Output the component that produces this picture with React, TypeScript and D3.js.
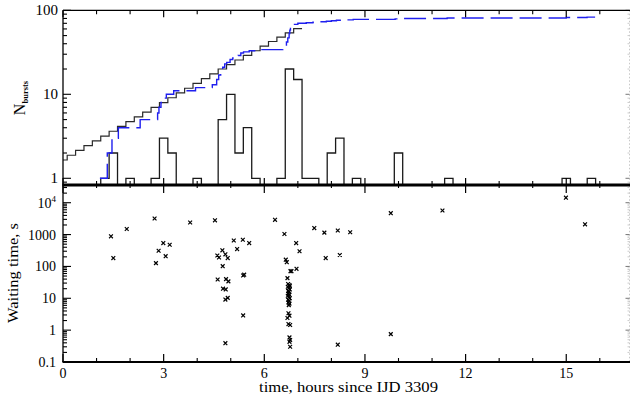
import React from 'react';
import * as d3 from 'd3';

// ---------- data ----------
const xMajorTicks = [0, 3, 6, 9, 12, 15];
const xTickLabels = ['0', '3', '6', '9', '12', '15'];

// histogram of bursts per 0.25 h bin (left edges, counts)
const histLeft = [1.125, 1.375, 1.875, 2.625, 2.875, 3.125, 3.875, 4.625, 4.875, 5.125, 5.375, 5.625, 6.375, 6.625, 6.875, 7.125, 7.375, 7.875, 8.125, 8.625, 9.875, 11.375, 14.875, 15.625];
const histCount = [1, 2, 1, 1, 3, 2, 1, 5, 10, 2, 4, 1, 1, 20, 15, 1, 1, 2, 3, 1, 2, 1, 1, 1];
const binWidth = 0.25;

// black staircase (model cumulative), one value per 0.25 h bin, first bin starts at 0
const modelEdges = [0, 0.125, 0.375, 0.625, 0.875, 1.125, 1.375, 1.625, 1.875, 2.125, 2.375, 2.625, 2.875, 3.125, 3.375, 3.625, 3.875, 4.125, 4.375, 4.625, 4.875, 5.125, 5.375, 5.625, 5.875, 6.125, 6.375, 6.625, 6.875];
const modelValues = [1.65, 1.88, 2.15, 2.45, 2.79, 3.18, 3.63, 4.14, 4.72, 5.38, 6.14, 7.0, 7.98, 9.1, 10.4, 11.8, 13.5, 15.4, 17.5, 20.0, 22.6, 25.6, 29.0, 33.0, 37.5, 42.5, 48.0, 54.0, 60.5];
const modelEnd = 7.125;

// blue cumulative number of bursts (step times, count after step)
const blueT = [1.10, 1.32, 1.46, 1.65, 2.30, 2.82, 2.86, 2.92, 3.00, 3.08, 3.30, 3.95, 4.45, 4.58, 4.64, 4.70, 4.76, 4.82, 4.88, 4.98, 5.06, 5.14, 5.22, 5.30, 5.38, 5.55, 5.75, 6.55, 6.62, 6.66, 6.70, 6.74, 6.76, 6.78, 6.80, 6.90, 7.00, 7.25, 7.45, 7.60, 7.85, 8.00, 8.15, 8.30, 8.65, 9.90, 10.05, 11.45, 15.00, 15.62];
const blueN = [1, 2, 3, 4, 5, 6, 7, 8, 9, 10, 11, 12, 13, 15, 17, 19, 21, 23, 24, 26, 27, 28, 29, 31, 32, 33, 34, 35, 37, 42, 47, 53, 58, 63, 67, 68, 70, 71, 72, 73, 74, 75, 76, 77, 78, 79, 80, 81, 82, 83];
const blueEnd = 15.86;

// waiting times (hours since IJD 3309, seconds)
const scatterT = [1.43, 1.50, 1.90, 2.73, 2.77, 2.85, 2.99, 3.06, 3.18, 3.79, 4.53, 4.60, 4.65, 4.61, 4.75, 4.76, 4.77, 4.84, 4.84, 4.84, 4.85, 4.86, 4.91, 4.91, 4.93, 5.09, 5.19, 5.36, 5.37, 5.40, 5.37, 5.55, 6.32, 6.60, 6.64, 6.67, 6.69, 6.78, 6.81, 6.96, 6.95, 7.05,
  6.71, 6.75, 6.70, 6.73, 6.76, 6.71, 6.74, 6.72, 6.75, 6.70, 6.73, 6.76, 6.71, 6.74, 6.72, 6.75, 6.73, 6.76,
  6.72, 6.75, 6.69, 6.72, 6.77, 6.75, 6.77, 6.75, 6.77,
  7.49, 7.79, 7.83, 8.19, 8.25, 8.19, 8.56, 9.77, 9.77, 11.31, 14.99, 15.56];
const scatterW = [880, 183, 1500, 3200, 127, 310, 540, 210, 480, 2400, 2800, 220, 190, 39, 320, 102, 20, 240, 9.1, 0.39, 19, 40, 183, 10.3, 34, 650, 350, 690, 52, 55, 2.9, 540, 2900, 1040, 163, 136, 43, 71, 71, 84, 540, 300,
  28, 26, 23, 21, 19, 17, 16, 14, 13, 12, 11, 10, 9, 8.2, 7.4, 6.8, 6.1, 24,
  3.4, 2.85, 2.4, 1.55, 1.45, 0.59, 0.49, 0.43, 0.3,
  1600, 1150, 183, 1340, 228, 0.35, 1180, 4700, 0.75, 5700, 14400, 2100];

const topLabels = [{ v: 1, t: '1' }, { v: 10, t: '10' }, { v: 100, t: '100' }];
const botLabels = [{ v: 0.1, t: '0.1' }, { v: 1, t: '1' }, { v: 10, t: '10' }, { v: 100, t: '100' }, { v: 1000, t: '1000' }];

// ---------- layout ----------
const W = 630, H = 401;
const L = 63, R = 629.5;
const T1 = 10.3, DIV = 185, B2 = 362;
const FONT = '"Liberation Serif", "DejaVu Serif", serif';

export default function App() {
  const x = d3.scaleLinear().domain([0, 16.9]).range([L, 630]);
  const yT = d3.scaleLog().domain([0.832, 100]).range([DIV, T1]);
  const yB = d3.scaleLog().domain([0.1, Math.pow(10, 4.556)]).range([B2, DIV]);

  // minor ticks on x
  const xMinor = d3.range(0, 17, 1).filter((v) => v % 3 !== 0);

  // log minor ticks
  const logTicks = (lo: number, hi: number) => {
    const out: { v: number; major: boolean }[] = [];
    for (let d = -2; d <= 5; d++) {
      for (let m = 1; m <= 9; m++) {
        const v = m * Math.pow(10, d);
        if (v >= lo * 0.999 && v <= hi * 1.001) out.push({ v, major: m === 1 });
      }
    }
    return out;
  };
  const topTicks = logTicks(0.832, 100);
  const botTicks = logTicks(0.1, Math.pow(10, 4.556));

  // histogram path
  let hist = '';
  histLeft.forEach((l, i) => {
    const r = l + binWidth;
    const prevContig = i > 0 && Math.abs(histLeft[i - 1] + binWidth - l) < 1e-6;
    const nextContig = i < histLeft.length - 1 && Math.abs(histLeft[i + 1] - r) < 1e-6;
    const yy = yT(histCount[i]);
    if (!prevContig) hist += `M${x(l)},${DIV}L${x(l)},${yy}`;
    else hist += `L${x(l)},${yy}`;
    hist += `L${x(r)},${yy}`;
    if (!nextContig) hist += `L${x(r)},${DIV}`;
  });

  const stepLine = d3.line<[number, number]>().curve(d3.curveStepAfter);
  const modelPts: [number, number][] = modelEdges.map((e, i) => [x(e), yT(modelValues[i])]);
  modelPts.push([x(modelEnd), yT(modelValues[modelValues.length - 1])]);
  const bluePts: [number, number][] = blueT.map((t, i) => [x(t), yT(blueN[i])]);
  bluePts.push([x(blueEnd), yT(blueN[blueN.length - 1])]);

  return (
    <svg width={W} height={H} style={{ position: 'absolute', left: 0, top: 0, background: '#fff' }}>
      <rect x={0} y={0} width={W} height={H} fill="#fff" />

      {/* right (cut) axis, light gray */}
      <line x1={R} x2={R} y1={T1} y2={B2} stroke="#c8c8c8" strokeWidth={1} strokeDasharray="1.5 2" />
      {topTicks.map((t, i) => (
        <line key={'rt' + i} x1={R - (t.major ? 4 : 2)} x2={R} y1={yT(t.v)} y2={yT(t.v)} stroke={t.major ? '#777' : '#ccc'} strokeWidth={1} />
      ))}
      {botTicks.map((t, i) => (
        <line key={'rb' + i} x1={R - (t.major ? 4 : 2)} x2={R} y1={yB(t.v)} y2={yB(t.v)} stroke={t.major ? '#777' : '#ccc'} strokeWidth={1} />
      ))}

      {/* top panel data */}
      <path d={hist} fill="none" stroke="#1a1a1a" strokeWidth={1.3} />
      <path d={stepLine(modelPts) || ''} fill="none" stroke="#2a2a2a" strokeWidth={1.2} />
      <path d={stepLine(bluePts) || ''} fill="none" stroke="#1f1fef" strokeWidth={1.4} strokeDasharray="22 7" />

      {/* scatter */}
      {scatterT.map((t, i) => {
        const cx = x(t), cy = yB(scatterW[i]);
        const s = 1.9;
        return (
          <path key={'s' + i} d={`M${cx - s},${cy - s}L${cx + s},${cy + s}M${cx - s},${cy + s}L${cx + s},${cy - s}`} stroke="#000" strokeWidth={1.2} fill="none" />
        );
      })}

      {/* frame lines */}
      <line x1={L} x2={630} y1={T1} y2={T1} stroke="#000" strokeWidth={1.3} />
      <line x1={L} x2={L} y1={T1} y2={B2} stroke="#000" strokeWidth={1.3} />
      <line x1={L - 0.5} x2={630} y1={DIV} y2={DIV} stroke="#000" strokeWidth={3} />
      <line x1={L - 0.5} x2={630} y1={B2} y2={B2} stroke="#000" strokeWidth={2} />

      {/* x ticks */}
      {xMajorTicks.map((v) => (
        <g key={'xm' + v}>
          <line x1={x(v)} x2={x(v)} y1={T1} y2={T1 + 7} stroke="#000" strokeWidth={1.2} />
          <line x1={x(v)} x2={x(v)} y1={DIV - 7} y2={DIV + 8} stroke="#000" strokeWidth={1.2} />
          <line x1={x(v)} x2={x(v)} y1={B2 - 8} y2={B2} stroke="#000" strokeWidth={1.2} />
        </g>
      ))}
      {xMinor.map((v) => (
        <g key={'xn' + v}>
          <line x1={x(v)} x2={x(v)} y1={T1} y2={T1 + 4} stroke="#000" strokeWidth={1.1} />
          <line x1={x(v)} x2={x(v)} y1={DIV - 4} y2={DIV + 3} stroke="#000" strokeWidth={1.1} />
          <line x1={x(v)} x2={x(v)} y1={B2 - 4} y2={B2} stroke="#000" strokeWidth={1.1} />
        </g>
      ))}

      {/* y ticks */}
      {topTicks.map((t, i) => (
        <line key={'yt' + i} x1={L} x2={L + (t.major ? 8 : 4)} y1={yT(t.v)} y2={yT(t.v)} stroke="#000" strokeWidth={1.1} />
      ))}
      {botTicks.map((t, i) => (
        <line key={'yb' + i} x1={L} x2={L + (t.major ? 8 : 4)} y1={yB(t.v)} y2={yB(t.v)} stroke="#000" strokeWidth={1.1} />
      ))}

      {/* tick labels */}
      <g fontFamily={FONT} fill="#000">
        {topLabels.map((d) => (
          <text key={'tl' + d.v} x={58} y={yT(d.v) + 5} fontSize={15} textAnchor="end">{d.t}</text>
        ))}
        {botLabels.map((d) => (
          <text key={'bl' + d.v} x={56} y={yB(d.v) + 5} fontSize={14} textAnchor="end">{d.t}</text>
        ))}
        <text x={56} y={yB(10000) + 5} fontSize={14} textAnchor="end">
          10<tspan fontSize={9} dy={-6}>4</tspan>
        </text>
        {xMajorTicks.map((v, i) => (
          <text key={'xl' + v} x={x(v)} y={378} fontSize={14} textAnchor="middle">{xTickLabels[i]}</text>
        ))}
        <text x={259} y={392} fontSize={14} textLength={179} lengthAdjust="spacingAndGlyphs">time, hours since IJD 3309</text>
        <text transform="translate(18,273) rotate(-90)" fontSize={14} textAnchor="middle" textLength={100} lengthAdjust="spacingAndGlyphs">Waiting time, s</text>
        <text transform="translate(25,98) rotate(-90)" textAnchor="middle">
          <tspan fontSize={16}>N</tspan>
          <tspan fontSize={8.5} fontWeight="bold" dy={3}>bursts</tspan>
        </text>
      </g>
    </svg>
  );
}
